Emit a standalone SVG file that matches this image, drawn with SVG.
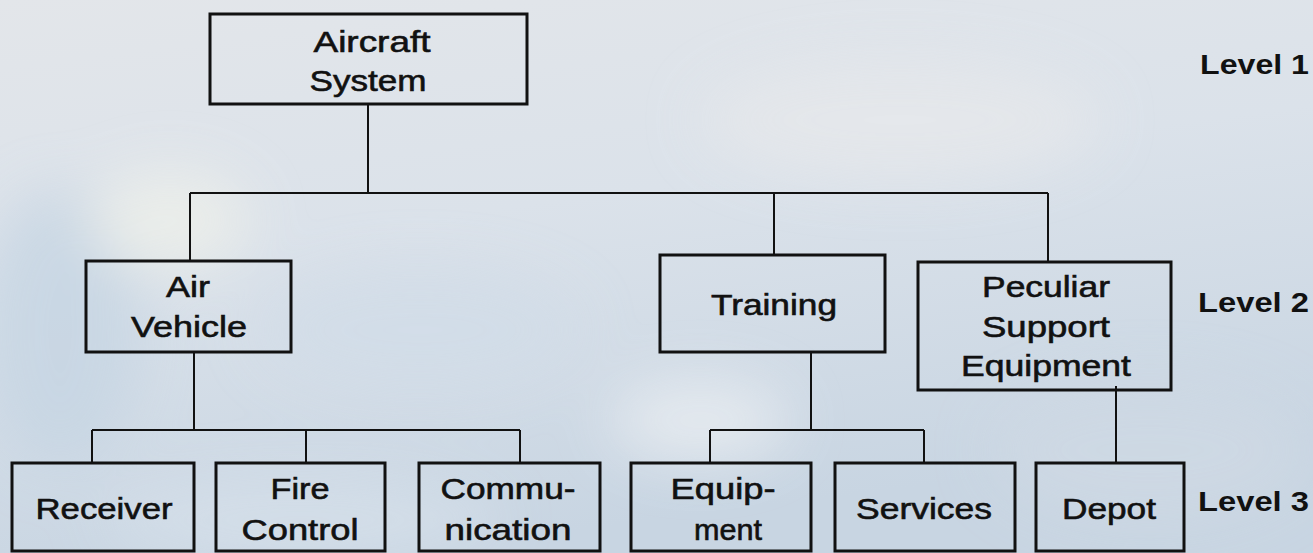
<svg xmlns="http://www.w3.org/2000/svg" width="1313" height="553" viewBox="0 0 1313 553">
<defs>
<linearGradient id="sky" x1="0" y1="0" x2="0.3" y2="1">
<stop offset="0" stop-color="#e3e6ea"/>
<stop offset="0.45" stop-color="#dbe2ea"/>
<stop offset="1" stop-color="#c8d5e2"/>
</linearGradient>
<filter id="soft" x="-50%" y="-50%" width="200%" height="200%"><feGaussianBlur stdDeviation="28"/></filter>
<style>
.box{fill:none;stroke:#111;stroke-width:3}
.con{fill:none;stroke:#111;stroke-width:2}
.t{font-family:"Liberation Sans",Arial,sans-serif;font-size:30px;fill:#111;stroke:#111;stroke-width:0.6;text-anchor:middle}
.lv{font-family:"Liberation Sans",Arial,sans-serif;font-size:27px;font-weight:bold;fill:#111}
</style>
</defs>
<g id="background">
<rect width="1313" height="553" fill="url(#sky)"/>
<g filter="url(#soft)" opacity="0.8">
<ellipse cx="60" cy="330" rx="80" ry="140" fill="#c6d5e3"/>
<ellipse cx="170" cy="220" rx="80" ry="50" fill="#eef0ea"/>
<ellipse cx="420" cy="330" rx="160" ry="60" fill="#d2dde8"/>
<ellipse cx="700" cy="420" rx="90" ry="40" fill="#eaeef2"/>
<ellipse cx="300" cy="520" rx="200" ry="40" fill="#d6e0ea"/>
<ellipse cx="1150" cy="450" rx="160" ry="70" fill="#cfd9e4"/>
<ellipse cx="900" cy="120" rx="200" ry="60" fill="#e6e8eb"/>
</g>
</g>
<g id="connectors">
<path class="con" d="M368,104 V193 M190,193 H1048 M190,193 V261 M774,193 V255 M1048,193 V262"/>
<path class="con" d="M194,352 V430 M92,430 H520 M92,430 V463 M306,430 V463 M520,430 V463"/>
<path class="con" d="M811,352 V430 M710,430 H924 M710,430 V463 M924,430 V463"/>
<path class="con" d="M1116,386 V463"/>
</g>
<g id="n-aircraft">
<rect class="box" x="210" y="14" width="317" height="90"/>
<text class="t" x="372" y="52" textLength="117" lengthAdjust="spacingAndGlyphs">Aircraft</text>
<text class="t" x="368" y="91" textLength="117" lengthAdjust="spacingAndGlyphs">System</text>
</g>
<g id="n-airvehicle">
<rect class="box" x="86" y="261" width="205" height="91"/>
<text class="t" x="188" y="297" textLength="44" lengthAdjust="spacingAndGlyphs">Air</text>
<text class="t" x="189" y="337" textLength="116" lengthAdjust="spacingAndGlyphs">Vehicle</text>
</g>
<g id="n-training">
<rect class="box" x="660" y="255" width="225" height="97"/>
<text class="t" x="774" y="315" textLength="126" lengthAdjust="spacingAndGlyphs">Training</text>
</g>
<g id="n-pse">
<rect class="box" x="918" y="262" width="253" height="128"/>
<text class="t" x="1046" y="297" textLength="128" lengthAdjust="spacingAndGlyphs">Peculiar</text>
<text class="t" x="1046" y="337" textLength="128" lengthAdjust="spacingAndGlyphs">Support</text>
<text class="t" x="1046" y="376" textLength="170" lengthAdjust="spacingAndGlyphs">Equipment</text>
</g>
<g id="n-receiver">
<rect class="box" x="12" y="463" width="182" height="88"/>
<text class="t" x="104" y="519" textLength="137" lengthAdjust="spacingAndGlyphs">Receiver</text>
</g>
<g id="n-firecontrol">
<rect class="box" x="216" y="463" width="169" height="88"/>
<text class="t" x="300" y="499" textLength="59" lengthAdjust="spacingAndGlyphs">Fire</text>
<text class="t" x="300" y="540" textLength="117" lengthAdjust="spacingAndGlyphs">Control</text>
</g>
<g id="n-communication">
<rect class="box" x="419" y="463" width="181" height="88"/>
<text class="t" x="508" y="499" textLength="135" lengthAdjust="spacingAndGlyphs">Commu-</text>
<text class="t" x="508" y="540" textLength="127" lengthAdjust="spacingAndGlyphs">nication</text>
</g>
<g id="n-equipment">
<rect class="box" x="631" y="463" width="180" height="88"/>
<text class="t" x="723" y="499" textLength="105" lengthAdjust="spacingAndGlyphs">Equip-</text>
<text class="t" x="728" y="540" textLength="68" lengthAdjust="spacingAndGlyphs">ment</text>
</g>
<g id="n-services">
<rect class="box" x="835" y="463" width="180" height="88"/>
<text class="t" x="924" y="519" textLength="136" lengthAdjust="spacingAndGlyphs">Services</text>
</g>
<g id="n-depot">
<rect class="box" x="1036" y="463" width="148" height="88"/>
<text class="t" x="1109" y="519" textLength="94" lengthAdjust="spacingAndGlyphs">Depot</text>
</g>
<g id="levels">
<text class="lv" x="1200" y="74" textLength="109" lengthAdjust="spacingAndGlyphs">Level 1</text>
<text class="lv" x="1198" y="312" textLength="111" lengthAdjust="spacingAndGlyphs">Level 2</text>
<text class="lv" x="1198" y="511" textLength="111" lengthAdjust="spacingAndGlyphs">Level 3</text>
</g>
</svg>
